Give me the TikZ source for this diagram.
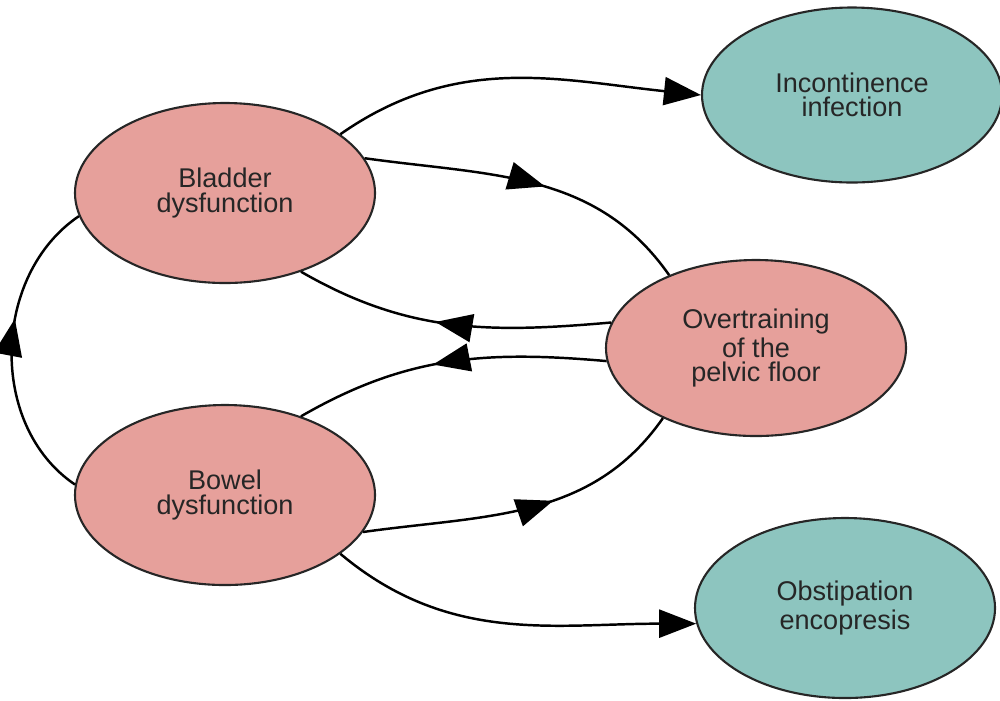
\documentclass[tikz,border=0pt]{standalone}
\usepackage{fontspec}
\setmainfont{Liberation Sans}
\usetikzlibrary{shapes.geometric, arrows.meta, decorations.markings}
\definecolor{pinkfill}{RGB}{230,160,155}
\definecolor{tealfill}{RGB}{141,197,191}
\tikzset{
  blob/.style={ellipse, draw=black!85, line width=0.6pt, minimum width=3cm,
    minimum height=1.8cm, inner sep=0pt, align=center, text=black!85,
    font=\fontsize{7.7}{6.9}\selectfont},
  problem/.style={blob, fill=pinkfill},
  outcome/.style={blob, fill=tealfill},
  link/.style={line width=0.7pt},
  tipend/.style={link, -{Triangle[length=3.7mm, width=2.8mm]}},
  midarrow/.style={link, postaction={decorate}, decoration={markings,
    mark=at position #1 with {\arrow{Triangle[length=3.7mm, width=2.8mm]}}}},
  midarrow/.default=0.55
}

\begin{document}
\begin{tikzpicture}
    \useasboundingbox (0,0) rectangle (10,7);
    % problems
    \node[problem] (bladder) at (2.25,5.07) {Bladder\\dysfunction};
    \node[problem] (bowel) at (2.25,2.05) {Bowel\\dysfunction};
    \node[problem, minimum height=1.76cm] (pelvic) at (7.56,3.52) {Overtraining\\of the\\pelvic floor};
    % outcomes
    \node[outcome, minimum height=1.75cm] (incont) at (8.52,6.05) {Incontinence\\infection};
    \node[outcome] (obstip) at (8.45,0.92) {Obstipation\\encopresis};
    % bladder side
    \draw[tipend] (bladder.27) to[out=35, in=174] (incont.west);
    \draw[midarrow=0.54] (bladder.14) to[out=-8, in=125] (pelvic.140);
    \draw[midarrow] (pelvic.170) to[out=185, in=-30] (bladder.-46);
    % bowel side
    \draw[midarrow] (pelvic.185) to[out=175, in=30] (bowel.46);
    \draw[midarrow=0.58] (bowel.-15) to[out=8, in=-125] (pelvic.217);
    \draw[tipend] (bowel.-27) to[out=-40, in=180] (obstip.186);
    % left loop
    \draw[midarrow=0.6] (bowel.176) to[out=146, in=-146] (bladder.189);
\end{tikzpicture}
\end{document}
